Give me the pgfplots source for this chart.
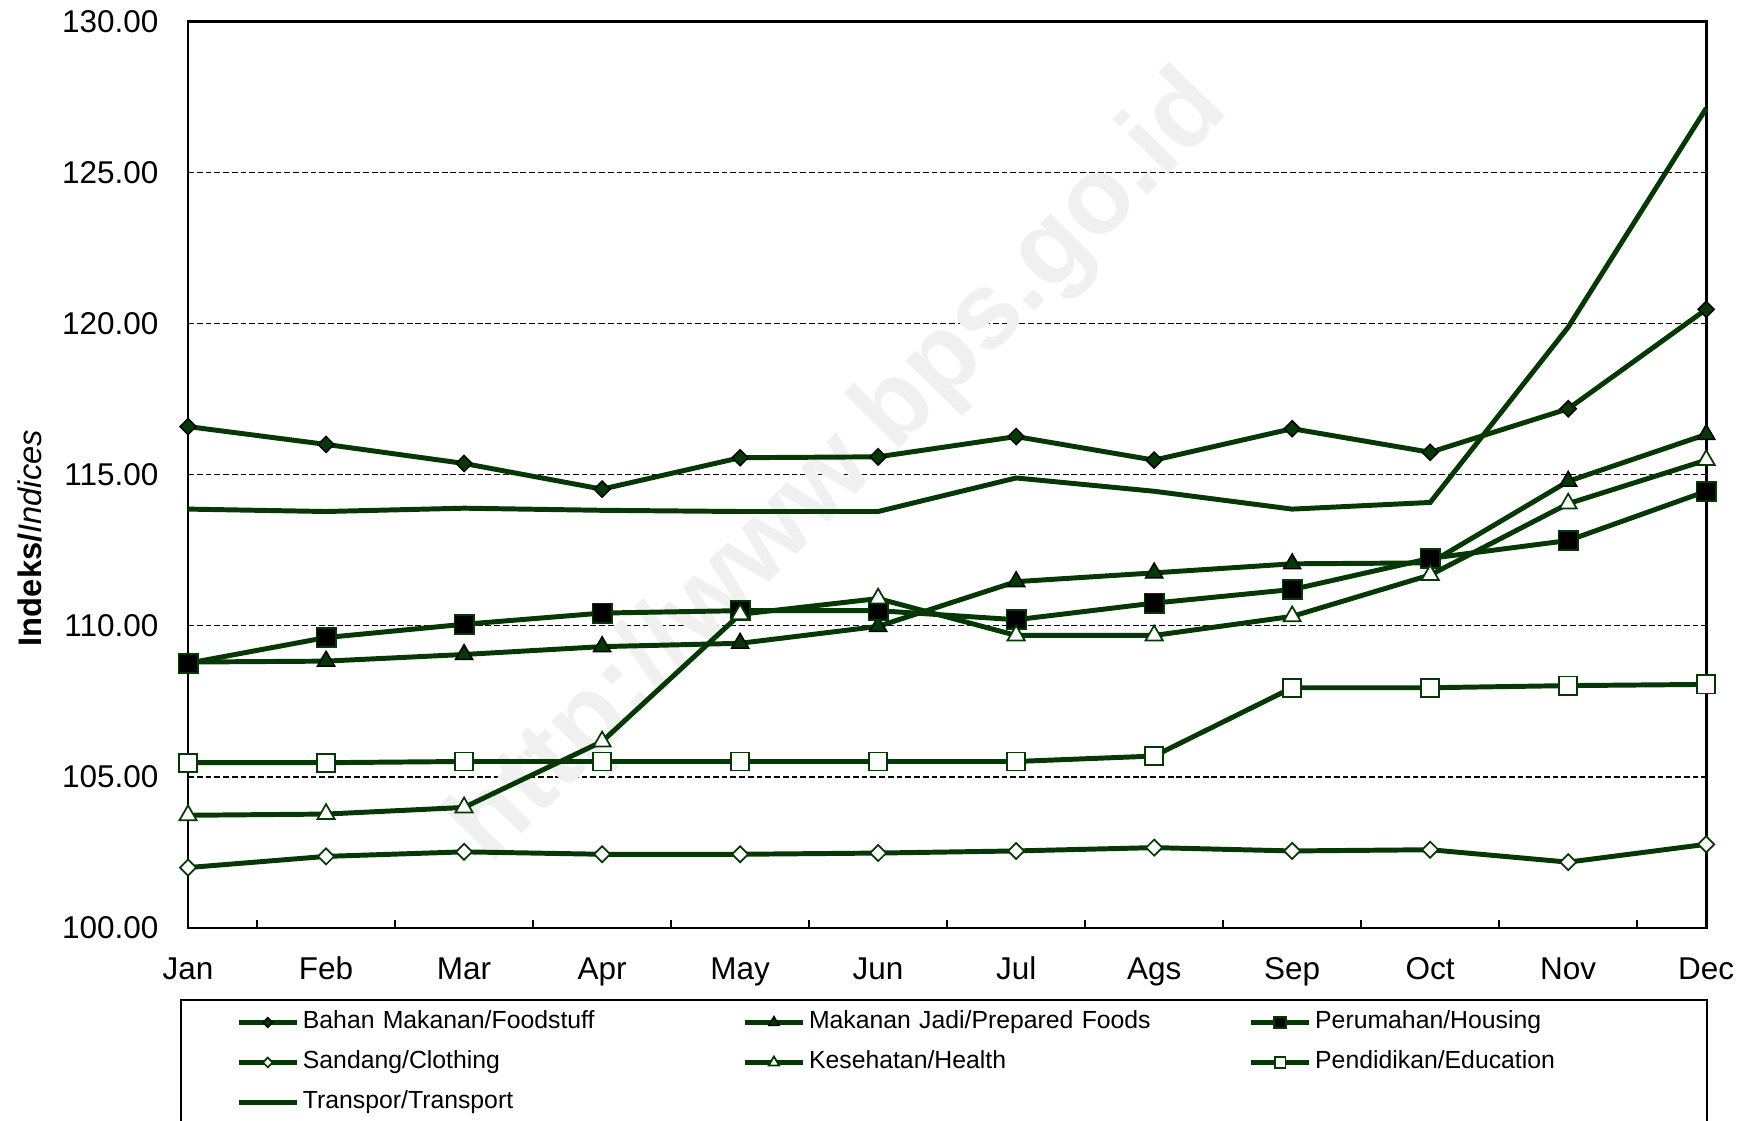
\documentclass[border=0pt]{standalone}
\usepackage{pgfplots}
\pgfplotsset{compat=1.18}
\usepackage{fontspec}
\setmainfont{Liberation Sans}
\definecolor{dg}{RGB}{6,56,6}
\begin{document}
\begin{tikzpicture}
\begin{axis}[
  scale only axis, width=520.7pt, height=311pt,
  xmin=0, xmax=11, ymin=100, ymax=130,
  clip=false,
  /pgf/number format/assume math mode=true,
  xtick={0,...,11},
  xticklabels={Jan,Feb,Mar,Apr,May,Jun,Jul,Ags,Sep,Oct,Nov,Dec},
  minor xtick={0.5,1.5,...,10.5},
  xtick pos=left, ytick pos=left,
  major tick length=0pt, minor tick length=2.7pt,
  minor x tick style={black, line width=0.7pt},
  ytick={100,105,...,130},
  yticklabel style={/pgf/number format/fixed,/pgf/number format/fixed zerofill,/pgf/number format/precision=2, inner xsep=0pt, xshift=-10pt},
  xticklabel style={anchor=base, yshift=-17.8pt},
  tick label style={font=\fontsize{10.8}{13}\selectfont},
  ymajorgrids,
  major grid style={black, dash pattern=on 2pt off 1pt, line width=0.5pt},
  axis line style={black, line width=0.9pt},
  ylabel={\textbf{Indeks/}\textit{Indices}},
  ylabel style={at={(axis description cs:-0.1041,0.43)}, anchor=center, font=\fontsize{11.2}{13}\selectfont},
  legend columns=3,
  legend cell align=left,
  legend image code/.code={\draw[mark repeat=2,mark phase=2,#1,/tikz/every mark/.append style={scale=0.6}] plot coordinates {(0pt,0pt) (10pt,0pt) (20pt,0pt)};},
  legend style={at={(axis description cs:0.0313,-0.0907)}, anchor=north west, draw=none, fill=none, inner sep=0pt, row sep=5.7pt,
    font=\fontsize{8.5}{10}\selectfont,
    nodes={inner xsep=0pt, inner ysep=0pt, text width=150.7pt, text height=6pt, text depth=2pt, align=left},
    /tikz/every odd column/.append style={column sep=1.2pt}},
]
\node[rotate=45.6, text=black!6, font=\fontsize{37}{40}\selectfont\bfseries] at (rel axis cs:0.43,0.506) {http://www.bps.go.id};

\addplot[dg, line width=1.7pt, mark=square*, mark size=1.95pt, mark options={solid, rotate=45, fill=dg, draw=black, line width=0.5pt}]
  coordinates {(0,116.59) (1,116.00) (2,115.37) (3,114.52) (4,115.56) (5,115.59) (6,116.26) (7,115.48) (8,116.52) (9,115.74) (10,117.18) (11,120.47)};
\addlegendentry{Bahan Makanan/Foodstuff}
\addplot[dg, line width=1.7pt, mark=triangle*, mark size=3.4pt, mark options={solid, fill=dg, draw=black, line width=0.5pt}]
  coordinates {(0,108.80) (1,108.83) (2,109.05) (3,109.31) (4,109.42) (5,109.98) (6,111.46) (7,111.75) (8,112.05) (9,112.08) (10,114.78) (11,116.33)};
\addlegendentry{Makanan Jadi/Prepared Foods}
\addplot[dg, line width=1.7pt, mark=square*, mark size=3.3pt, mark options={solid, fill=black, draw=dg, line width=0.6pt}]
  coordinates {(0,108.76) (1,109.61) (2,110.05) (3,110.42) (4,110.50) (5,110.50) (6,110.20) (7,110.75) (8,111.20) (9,112.23) (10,112.82) (11,114.45)};
\addlegendentry{Perumahan/Housing}
\addplot[dg, line width=1.7pt, mark=square*, mark size=1.95pt, mark options={solid, rotate=45, fill=white, draw=dg, line width=0.6pt}]
  coordinates {(0,102.00) (1,102.37) (2,102.52) (3,102.44) (4,102.44) (5,102.48) (6,102.55) (7,102.66) (8,102.55) (9,102.59) (10,102.18) (11,102.77)};
\addlegendentry{Sandang/Clothing}
\addplot[dg, line width=1.7pt, mark=triangle*, mark size=3.4pt, mark options={solid, fill=white, draw=dg, line width=0.6pt}]
  coordinates {(0,103.73) (1,103.77) (2,103.99) (3,106.17) (4,110.38) (5,110.90) (6,109.68) (7,109.68) (8,110.31) (9,111.68) (10,114.04) (11,115.48)};
\addlegendentry{Kesehatan/Health}
\addplot[dg, line width=1.7pt, mark=square*, mark size=3.1pt, mark options={solid, fill=white, draw=dg, line width=0.6pt}]
  coordinates {(0,105.47) (1,105.47) (2,105.51) (3,105.51) (4,105.51) (5,105.51) (6,105.51) (7,105.69) (8,107.95) (9,107.95) (10,108.02) (11,108.06)};
\addlegendentry{Pendidikan/Education}
\addplot[dg, line width=1.7pt]
  coordinates {(0,113.86) (1,113.78) (2,113.89) (3,113.82) (4,113.78) (5,113.78) (6,114.89) (7,114.45) (8,113.86) (9,114.08) (10,119.88) (11,127.12)};
\addlegendentry{Transpor/Transport}
\end{axis}
\draw[black, line width=0.7pt] (-2.4pt,-24.7pt) rectangle (521pt,-90pt);
\pgfresetboundingbox
\useasboundingbox (-64.5pt,-65.9pt) rectangle (536.4pt,318.3pt);
\end{tikzpicture}
\end{document}
